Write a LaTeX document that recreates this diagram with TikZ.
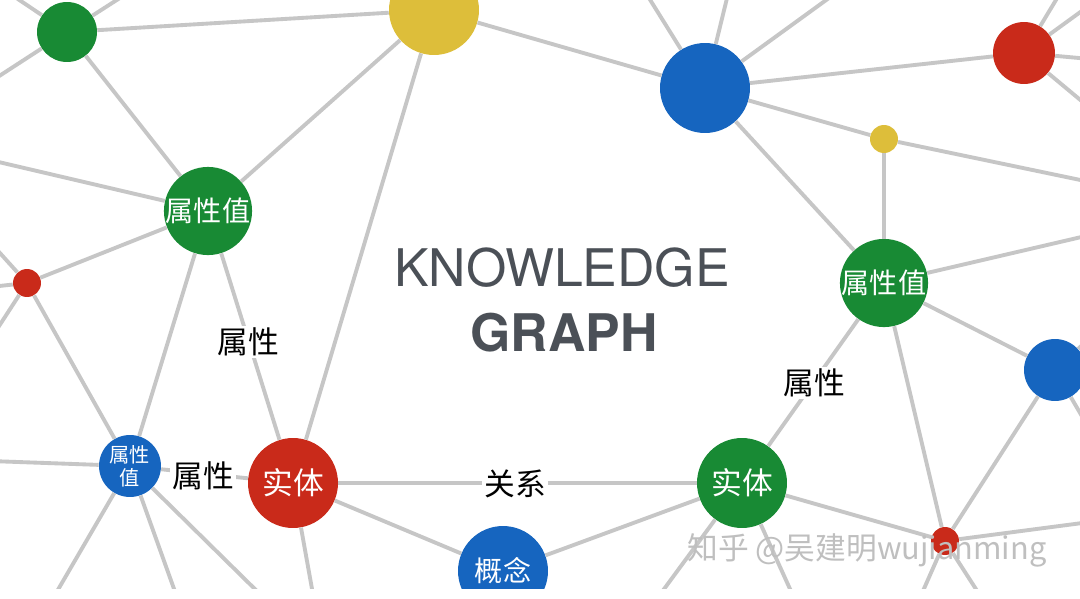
\documentclass[tikz,border=0pt]{standalone}
\usepackage{fontspec}
\setmainfont{TeX Gyre Heros}
\newfontfamily\cjk{Noto Sans CJK SC}
\definecolor{kgreen}{RGB}{24,138,52}
\definecolor{kred}{RGB}{201,42,26}
\definecolor{kblue}{RGB}{22,101,191}
\definecolor{kyellow}{RGB}{221,190,58}
\definecolor{kline}{RGB}{198,198,198}
\definecolor{ktitle}{RGB}{75,80,87}

\begin{document}
\begin{tikzpicture}[x=0.02cm, y=-0.02cm,
  ball/.style 2 args={circle, fill=#1, minimum size=#2*0.04cm, inner sep=0pt, text=white},
  link/.style={draw=kline, line width=2.2pt},
  lbl/.style={fill=white, inner sep=1pt, text=black, font=\cjk\fontsize{17.5}{20}\selectfont}]
\useasboundingbox (0,0) rectangle (1080,599);
\fill[white] (0,0) rectangle (1080,599);
\begin{scope}
\clip (0,0) rectangle (1080,588);
% circles
\node[ball={kgreen}{30}] (g1) at (67,32) {};
\node[ball={kyellow}{45}] (y1) at (434,10) {};
\node[ball={kgreen}{44}, font=\cjk\fontsize{16}{18}\selectfont] (av1) at (208,211) {属性值};
\node[ball={kred}{14}] (r1) at (27,283) {};
\node[ball={kblue}{45}] (b1) at (705,88) {};
\node[ball={kred}{31}] (r2) at (1024,53) {};
\node[ball={kyellow}{14}] (y2) at (884,139) {};
\node[ball={kgreen}{44}, font=\cjk\fontsize{16}{18}\selectfont] (av2) at (884,283) {属性值};
\node[ball={kblue}{31}, font=\cjk\fontsize{11.5}{13}\selectfont, align=center] (av3) at (130,466) {属性\\值};
\node[ball={kred}{45}, font=\cjk\fontsize{17.5}{20}\selectfont] (e1) at (293,483) {实体};
\node[ball={kblue}{45}, font=\cjk\fontsize{16}{18}\selectfont] (c1) at (503,571) {概念};
\node[ball={kgreen}{45}, font=\cjk\fontsize{17.5}{20}\selectfont] (e2) at (742,483) {实体};
\node[ball={kred}{14}] (r3) at (945,541) {};
\node[ball={kblue}{31}] (b2) at (1055,370) {};
% free ends outside the frame
\coordinate (f1) at (0,-13);   \coordinate (f2) at (137,-13);
\coordinate (f3) at (-10,82);  \coordinate (f4) at (-10,160);
\coordinate (f5) at (-10,242); \coordinate (f6) at (-10,287);
\coordinate (f7) at (-10,340); \coordinate (f8) at (-10,461);
\coordinate (f9) at (52,600);  \coordinate (f10) at (178,600);
\coordinate (f11) at (266,600); \coordinate (f12) at (314,600);
\coordinate (f13) at (656,600); \coordinate (f14) at (795,600);
\coordinate (f15) at (919,600); \coordinate (f16) at (983,600);
\coordinate (f17) at (1090,522); \coordinate (f18) at (1090,430);
\coordinate (f19) at (1090,338); \coordinate (f20) at (1090,235);
\coordinate (f21) at (1090,182); \coordinate (f22) at (1090,108);
\coordinate (f23) at (1090,59);  \coordinate (f24) at (1062,-10);
\coordinate (f25) at (1090,5);   \coordinate (f26) at (644,-10);
\coordinate (f27) at (729,-10);  \coordinate (f28) at (840,-10);
% links
\foreach \a/\b in {g1/f1, g1/f2, g1/f3, g1/y1, g1/av1,
    av1/f4, av1/r1, av1/y1, av1/av3, av1/e1,
    r1/f5, r1/f6, r1/f7, r1/av3,
    y1/e1, y1/b1,
    b1/f26, b1/f27, b1/f28, b1/r2, b1/y2, b1/av2,
    r2/f24, r2/f25, r2/f23, r2/f22,
    y2/av2, y2/f21,
    av2/f20, av2/b2, av2/r3, av2/e2,
    b2/r3, b2/f18, b2/f19,
    r3/f17, r3/e2, r3/f15, r3/f16,
    e2/e1, e2/c1, e2/f13, e2/f14,
    c1/e1, e1/av3, e1/f12,
    av3/f8, av3/f9, av3/f10, av3/f11}
  \draw[link] (\a) -- (\b);
% labels
\node[lbl] (p1) at (248,342) {属性};
\node[lbl] (p2) at (203,476) {属性};
\node[lbl] (rel) at (515,484) {关系};
\node[lbl] (p3) at (814,383) {属性};
% title
\node[font=\fontsize{29.5}{32}\selectfont, text=ktitle, inner sep=0pt] (kn) at (562,268) {KNOWLEDGE};
\node[font=\bfseries\fontsize{29.5}{32}\selectfont, text=ktitle, inner sep=0pt] (gr) at (564,333) {GRAPH};
% watermark
\node[font=\cjk\fontsize{17.5}{20}\selectfont, text=black!25, inner sep=0pt] (wm) at (867,550) {知乎 @吴建明wujianming};
\end{scope}
\end{tikzpicture}
\end{document}
